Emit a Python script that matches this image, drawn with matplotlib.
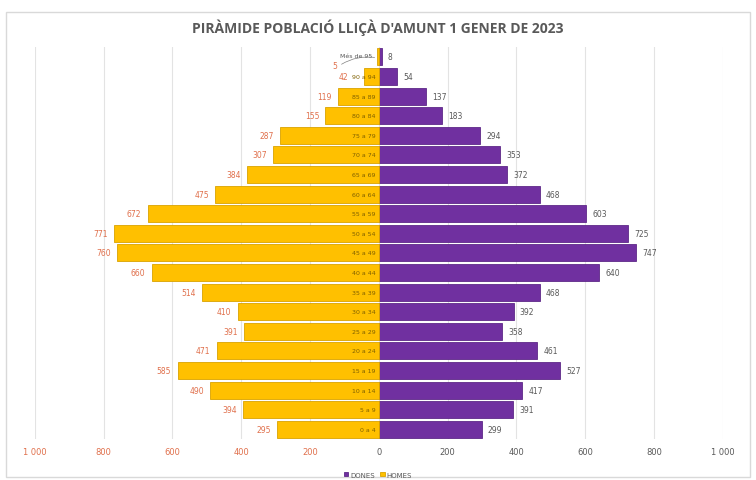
import matplotlib.pyplot as plt
from matplotlib.patches import Rectangle

# Padró 1 gener 2023, Lliçà d'Amunt (bottom -> top)
groups = ["0 a 4", "5 a 9", "10 a 14", "15 a 19", "20 a 24", "25 a 29", "30 a 34",
          "35 a 39", "40 a 44", "45 a 49", "50 a 54", "55 a 59", "60 a 64", "65 a 69",
          "70 a 74", "75 a 79", "80 a 84", "85 a 89", "90 a 94", "Més de 95"]
dones = [299, 391, 417, 527, 461, 358, 392, 468, 640, 747,
         725, 603, 468, 372, 353, 294, 183, 137, 54, 8]
homes = [295, 394, 490, 585, 471, 391, 410, 514, 660, 760,
         771, 672, 475, 384, 307, 287, 155, 119, 42, 5]
ticks = [-1000, -800, -600, -400, -200, 0, 200, 400, 600, 800, 1000]

PURPLE = "#7030A0"
YELLOW = "#FFC000"
RED = "#E0704C"
GREY = "#595959"

fig = plt.figure(figsize=(7.56, 4.81), dpi=100)
fig.patches.append(Rectangle((0.008, 0.006), 0.984, 0.966, transform=fig.transFigure,
                             fill=False, edgecolor="#D9D9D9", lw=1))
ax = fig.add_axes([0.046, 0.085, 0.91, 0.815])

y = list(range(len(groups)))
ax.barh(y, dones, height=0.86, color=PURPLE, edgecolor="#5E2888", lw=0.6, label="DONES", zorder=3)
ax.barh(y, [-h for h in homes], height=0.86, color=YELLOW, edgecolor="#D9A300", lw=0.6,
        label="HOMES", zorder=3)

for i in y:
    ax.text(dones[i] + 18, i, str(dones[i]), ha="left", va="center", fontsize=5.5, color=GREY, zorder=4)
    if i < len(groups) - 1:
        ax.text(-max(homes[i], 70) - 18, i, str(homes[i]), ha="right", va="center",
                fontsize=5.5, color=RED, zorder=4)
        ax.text(-10, i, groups[i], ha="right", va="center", fontsize=4.5, color="#7F6000", zorder=4)

# top group label with leader line
top = len(groups) - 1
ax.annotate(groups[top], xy=(-4, top), xytext=(-20, top + 0.05), ha="right", va="center",
            fontsize=4.5, color=GREY, zorder=4)
ax.annotate("", xy=(-4, top - 0.05), xytext=(-115, top - 0.45),
            arrowprops=dict(arrowstyle="-", color="#7F7F7F", lw=0.5, connectionstyle="arc3,rad=-0.2"))
ax.text(-120, top - 0.45, str(homes[top]), ha="right", va="center", fontsize=5.5, color=RED)

ax.set_xlim(-1000, 1000)
ax.set_ylim(-0.5, len(groups) - 0.5)
ax.set_xticks(ticks)
ax.set_xticklabels([f"{abs(t):,}".replace(",", " ") for t in ticks], fontsize=6)
for lbl, t in zip(ax.get_xticklabels(), ticks):
    lbl.set_color(RED if t < 0 else GREY)
ax.set_yticks([])
ax.tick_params(axis="x", length=0, pad=6)
ax.grid(axis="x", color="#E3E3E3", lw=0.8, zorder=0)
for s in ax.spines.values():
    s.set_visible(False)

fig.suptitle("PIRÀMIDE POBLACIÓ LLIÇÀ D'AMUNT 1 GENER DE 2023", y=0.96,
             fontsize=10, fontweight="bold", color=GREY, family="Open Sans")

fig.legend(loc="lower center", bbox_to_anchor=(0.5, -0.008), ncol=2, frameon=False,
           fontsize=5, labelcolor=GREY, handlelength=0.6, handleheight=0.6,
           handletextpad=0.3, columnspacing=0.8)

fig.savefig("out.png", dpi=100)
